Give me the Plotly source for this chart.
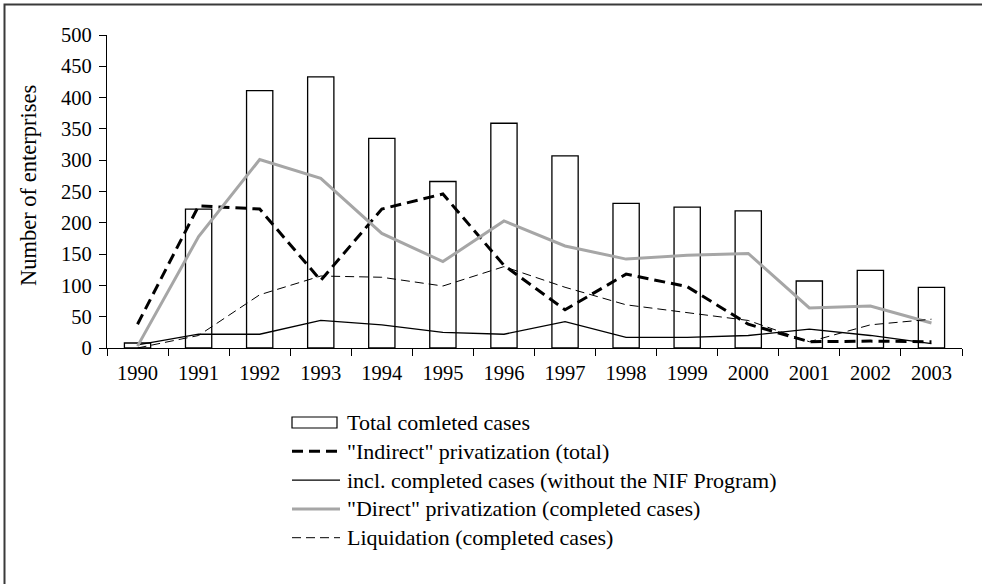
import plotly.graph_objects as go

years = ["1990", "1991", "1992", "1993", "1994", "1995", "1996", "1997",
         "1998", "1999", "2000", "2001", "2002", "2003"]
total_completed = [8, 222, 411, 433, 335, 266, 359, 307, 231, 225, 219, 107, 124, 97]
indirect_total = [38, 227, 222, 108, 222, 246, 132, 61, 118, 98, 38, 10, 11, 10]
incl_completed = [5, 22, 22, 44, 37, 25, 22, 42, 17, 17, 20, 30, 20, 7]
direct_completed = [3, 178, 301, 271, 183, 138, 203, 163, 142, 148, 151, 64, 67, 40]
liquidation = [0, 20, 85, 115, 113, 99, 130, 97, 69, 56, 44, 10, 37, 46]

legend_labels = ["Total comleted cases",
                 "\"Indirect\" privatization (total)",
                 "incl. completed cases (without the NIF Program)",
                 "\"Direct\" privatization (completed cases)",
                 "Liquidation (completed cases)"]

FONT = "Liberation Serif, Times New Roman, serif"

W, H = 982, 584
L, R, T, B = 107, 20, 35, 236
PW, PH = W - L - R, H - T - B


def px(x):
    return (x - L) / PW


def py(y):
    return (H - B - y) / PH


fig = go.Figure()
fig.add_trace(go.Bar(x=years, y=total_completed, width=0.43,
                     marker=dict(color="white", line=dict(color="black", width=1.3)),
                     name=legend_labels[0]))
fig.add_trace(go.Scatter(x=years, y=indirect_total, mode="lines",
                         line=dict(color="black", width=3, dash="11px,6px"),
                         name=legend_labels[1]))
fig.add_trace(go.Scatter(x=years, y=incl_completed, mode="lines",
                         line=dict(color="black", width=1.3),
                         name=legend_labels[2]))
fig.add_trace(go.Scatter(x=years, y=direct_completed, mode="lines",
                         line=dict(color="#a6a6a6", width=3),
                         name=legend_labels[3]))
fig.add_trace(go.Scatter(x=years, y=liquidation, mode="lines",
                         line=dict(color="black", width=1, dash="9px,5px"),
                         name=legend_labels[4]))

shapes = []
annotations = []
# outer frame (top and left edges visible; right/bottom fall outside the page)
shapes.append(dict(type="rect", xref="paper", yref="paper",
                   x0=px(4.5), x1=px(1010), y0=py(4.5), y1=py(620),
                   line=dict(color="#3a3a3a", width=2), fillcolor="rgba(0,0,0,0)",
                   layer="below"))

# manual legend
row_y = [422.5, 451.3, 480.1, 508.9, 537.7]
sx0, sx1, tx = 292, 340, 345
shapes.append(dict(type="rect", xref="paper", yref="paper",
                   x0=px(sx0), x1=px(sx1 - 3), y0=py(row_y[0] - 5.5), y1=py(row_y[0] + 5.5),
                   line=dict(color="black", width=1.2), fillcolor="white"))
styles = [dict(color="black", width=3, dash="11px,6px"),
          dict(color="black", width=1.3),
          dict(color="#a6a6a6", width=3),
          dict(color="black", width=1, dash="9px,5px")]
for yy, st in zip(row_y[1:], styles):
    shapes.append(dict(type="line", xref="paper", yref="paper",
                       x0=px(sx0), x1=px(sx1), y0=py(yy), y1=py(yy), line=st))
for yy, lab in zip(row_y, legend_labels):
    annotations.append(dict(xref="paper", yref="paper", x=px(tx), y=py(yy),
                            text=lab, showarrow=False, xanchor="left", yanchor="middle",
                            font=dict(family=FONT, size=22, color="black")))

# y axis title
annotations.append(dict(xref="paper", yref="paper", x=px(28), y=py(186),
                        text="Number of enterprises", textangle=-90, showarrow=False,
                        xanchor="center", yanchor="middle",
                        font=dict(family=FONT, size=22.5, color="black")))

fig.update_layout(
    width=W, height=H,
    margin=dict(l=L, r=R, t=T, b=B),
    paper_bgcolor="white", plot_bgcolor="white",
    showlegend=False,
    bargap=0.57,
    font=dict(family=FONT, size=20, color="black"),
    shapes=shapes, annotations=annotations,
    xaxis=dict(type="category", tickson="boundaries", ticks="outside", ticklen=7,
               tickcolor="black", tickwidth=1.3, showline=True, linecolor="black",
               linewidth=1.3, showgrid=False, zeroline=False, ticklabelstandoff=6,
               tickfont=dict(family=FONT, size=20.5)),
    yaxis=dict(range=[0, 500], dtick=50, ticks="outside", ticklen=7,
               tickcolor="black", tickwidth=1.3, showline=True, linecolor="black",
               linewidth=1.3, showgrid=False, zeroline=False, ticklabelstandoff=3,
               tickfont=dict(family=FONT, size=20.5)),
)

fig.write_html("out.html", config={"displayModeBar": False},
               post_script="document.body.style.margin='0';document.body.style.overflow='hidden';")
